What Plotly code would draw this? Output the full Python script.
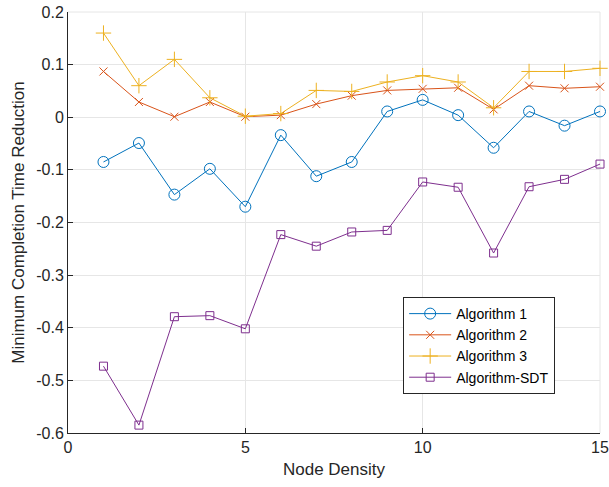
import plotly.graph_objects as go

node_density = list(range(1, 16))

alg1 = [-0.085, -0.049, -0.147, -0.098, -0.170, -0.034, -0.112, -0.085,
        0.011, 0.033, 0.004, -0.058, 0.011, -0.016, 0.011]
alg2 = [0.087, 0.029, 0.001, 0.029, 0.001, 0.004, 0.025, 0.041,
        0.051, 0.054, 0.056, 0.015, 0.060, 0.055, 0.058]
alg3 = [0.160, 0.060, 0.110, 0.037, 0.002, 0.007, 0.051, 0.049,
        0.067, 0.079, 0.067, 0.018, 0.087, 0.087, 0.093]
alg_sdt = [-0.473, -0.585, -0.379, -0.377, -0.402, -0.223, -0.245, -0.218,
           -0.215, -0.123, -0.133, -0.258, -0.132, -0.118, -0.089]

series_names = ["Algorithm 1", "Algorithm 2", "Algorithm 3", "Algorithm-SDT"]

x_tickvals = [0, 5, 10, 15]
x_ticktext = ["0", "5", "10", "15"]
y_tickvals = [-0.6, -0.5, -0.4, -0.3, -0.2, -0.1, 0, 0.1, 0.2]
y_ticktext = ["-0.6", "-0.5", "-0.4", "-0.3", "-0.2", "-0.1", "0", "0.1", "0.2"]

colors = ["#0072BD", "#D95319", "#EDB120", "#7E2F8E"]
symbols = ["circle-open", "x-thin-open", "cross-thin-open", "square-open"]
sizes = [11, 8, 11, 8]

FONT = "Liberation Sans, Arial, sans-serif"
GRID = "#e6e6e6"

fig = go.Figure()
for name, ys, c, s, sz in zip(series_names, [alg1, alg2, alg3, alg_sdt], colors, symbols, sizes):
    fig.add_trace(go.Scatter(
        x=node_density, y=ys, name=name, mode="lines+markers",
        line=dict(color=c, width=1),
        marker=dict(symbol=s, size=sz, color=c, line=dict(color=c, width=1)),
        cliponaxis=False,
    ))

axis_common = dict(
    showline=True, linecolor="#262626", linewidth=1,
    ticks="inside", ticklen=5, tickcolor="#262626", tickwidth=1,
    showgrid=True, gridcolor=GRID, gridwidth=1,
    zeroline=False, automargin=False,
    tickfont=dict(family=FONT, size=16, color="#262626"),
)

# light frame on top/right edges (grid lines at range limits, as in the original)
fig.add_shape(type="line", xref="paper", yref="paper", x0=0, x1=1, y0=1, y1=1,
              line=dict(color=GRID, width=1), layer="below")
fig.add_shape(type="line", xref="paper", yref="paper", x0=1, x1=1, y0=0, y1=1,
              line=dict(color=GRID, width=1), layer="below")

fig.update_layout(
    width=609, height=487,
    paper_bgcolor="white", plot_bgcolor="white",
    margin=dict(l=68, r=9, t=12, b=54),
    showlegend=True,
    legend=dict(
        x=0.63, y=0.323, xanchor="left", yanchor="top",
        bgcolor="white", bordercolor="#262626", borderwidth=1,
        font=dict(family=FONT, size=14, color="#000000"),
        tracegroupgap=0, itemwidth=42,
    ),
    xaxis=dict(range=[0, 15], tickvals=x_tickvals, ticktext=x_ticktext,
               title=dict(text="Node Density", standoff=7,
                          font=dict(family=FONT, size=17, color="#262626")),
               **axis_common),
    yaxis=dict(range=[-0.6, 0.2], tickvals=y_tickvals, ticktext=y_ticktext,
               title=dict(text="Minimum Completion Time Reduction", standoff=7,
                          font=dict(family=FONT, size=17, color="#262626")),
               **axis_common),
)

fig.write_html("out.html",
               config={"displayModeBar": False},
               post_script="document.body.style.margin='0';document.body.style.padding='0';")
